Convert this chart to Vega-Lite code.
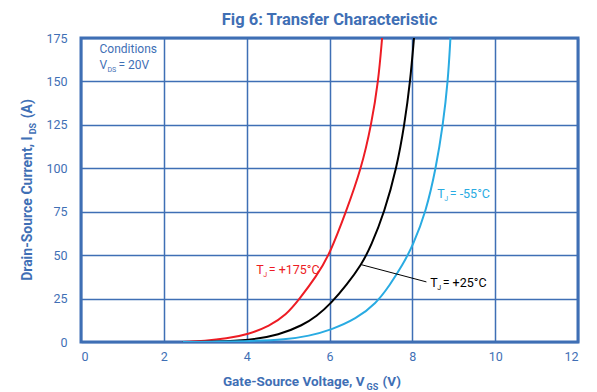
{
  "$schema": "https://vega.github.io/schema/vega-lite/v6.json",
  "width": 497,
  "height": 304,
  "autosize": "none",
  "padding": {"left": 81, "top": 38, "right": 19, "bottom": 50},
  "title": {"text": "Fig 6: Transfer Characteristic", "font": "Roboto", "fontSize": 16.5, "fontWeight": "bold", "color": "#3f6fb5", "anchor": "middle", "offset": 4},
  "config": {
    "view": {"stroke": "#3f6fb5", "strokeWidth": 3},
    "text": {"font": "Roboto"}
  },
  "datasets": {
    "curves": [
      {"series": "+175", "vgs": 2.45, "ids": 0},
      {"series": "+175", "vgs": 3.0, "ids": 0.7},
      {"series": "+175", "vgs": 3.5, "ids": 1.9},
      {"series": "+175", "vgs": 4.04, "ids": 4.4},
      {"series": "+175", "vgs": 4.55, "ids": 9.2},
      {"series": "+175", "vgs": 4.95, "ids": 15.5},
      {"series": "+175", "vgs": 5.27, "ids": 24.6},
      {"series": "+175", "vgs": 5.68, "ids": 37.7},
      {"series": "+175", "vgs": 6.0, "ids": 50.2},
      {"series": "+175", "vgs": 6.4, "ids": 75},
      {"series": "+175", "vgs": 6.77, "ids": 100},
      {"series": "+175", "vgs": 7.01, "ids": 125},
      {"series": "+175", "vgs": 7.18, "ids": 150},
      {"series": "+175", "vgs": 7.27, "ids": 175},
      {"series": "+25", "vgs": 2.45, "ids": 0},
      {"series": "+25", "vgs": 3.3, "ids": 0.2},
      {"series": "+25", "vgs": 4.04, "ids": 0.9},
      {"series": "+25", "vgs": 4.79, "ids": 4},
      {"series": "+25", "vgs": 5.36, "ids": 9.8},
      {"series": "+25", "vgs": 5.68, "ids": 14.6},
      {"series": "+25", "vgs": 6.04, "ids": 22.3},
      {"series": "+25", "vgs": 6.42, "ids": 33},
      {"series": "+25", "vgs": 6.77, "ids": 44.5},
      {"series": "+25", "vgs": 7.0, "ids": 55},
      {"series": "+25", "vgs": 7.33, "ids": 75},
      {"series": "+25", "vgs": 7.62, "ids": 100},
      {"series": "+25", "vgs": 7.81, "ids": 125},
      {"series": "+25", "vgs": 7.95, "ids": 150},
      {"series": "+25", "vgs": 8.04, "ids": 175},
      {"series": "-55", "vgs": 2.45, "ids": 0},
      {"series": "-55", "vgs": 4.04, "ids": 0.4},
      {"series": "-55", "vgs": 4.95, "ids": 1.4},
      {"series": "-55", "vgs": 5.5, "ids": 3.4},
      {"series": "-55", "vgs": 6.04, "ids": 7.0},
      {"series": "-55", "vgs": 6.64, "ids": 13.2},
      {"series": "-55", "vgs": 7.13, "ids": 22.3},
      {"series": "-55", "vgs": 7.45, "ids": 32.5},
      {"series": "-55", "vgs": 7.77, "ids": 44.5},
      {"series": "-55", "vgs": 8.02, "ids": 56},
      {"series": "-55", "vgs": 8.33, "ids": 75},
      {"series": "-55", "vgs": 8.57, "ids": 100},
      {"series": "-55", "vgs": 8.74, "ids": 125},
      {"series": "-55", "vgs": 8.86, "ids": 150},
      {"series": "-55", "vgs": 8.92, "ids": 175}
    ],
    "tlabels": [
      {"series": "-55", "x": 8.6, "y": 83.1, "pre": "T", "sub": "J", "post": "= -55°C"},
      {"series": "+175", "x": 4.23, "y": 39.3, "pre": "T", "sub": "J", "post": "= +175°C"},
      {"series": "+25", "x": 8.43, "y": 31.9, "pre": "T", "sub": "J", "post": "= +25°C"}
    ]
  },
  "layer": [
    {
      "data": {"name": "curves"},
      "mark": {"type": "line", "strokeWidth": 2, "clip": true, "interpolate": "basis"},
      "encoding": {
        "x": {"field": "vgs", "type": "quantitative", "scale": {"domain": [0, 12], "nice": false},
          "axis": {"values": [0, 2, 4, 6, 8, 10, 12], "grid": true, "gridColor": "#3f6fb5", "gridWidth": 1.5, "ticks": false, "domain": false, "labelPadding": 8, "labelFont": "Roboto", "labelFontSize": 12.5, "labelColor": "#3f6fb5", "title": null}},
        "y": {"field": "ids", "type": "quantitative", "scale": {"domain": [0, 175], "nice": false},
          "axis": {"values": [0, 25, 50, 75, 100, 125, 150, 175], "grid": true, "gridColor": "#3f6fb5", "gridWidth": 1.5, "ticks": false, "domain": false, "labelPadding": 14, "labelFont": "Roboto", "labelFontSize": 12.5, "labelColor": "#3f6fb5", "title": null}},
        "color": {"field": "series", "type": "nominal", "scale": {"domain": ["+175", "+25", "-55"], "range": ["#ed1c24", "#000000", "#29abe2"]}, "legend": null},
        "detail": {"field": "series"}
      }
    },
    {
      "data": {"values": [{"x": 6.77, "y": 44.5, "x2": 8.34, "y2": 34.6}]},
      "mark": {"type": "rule", "color": "#000000", "strokeWidth": 1},
      "encoding": {
        "x": {"field": "x", "type": "quantitative"},
        "y": {"field": "y", "type": "quantitative"},
        "x2": {"field": "x2"},
        "y2": {"field": "y2"}
      }
    },
    {
      "data": {"name": "tlabels"},
      "mark": {"type": "text", "align": "left", "baseline": "alphabetic", "fontSize": 12.5},
      "encoding": {
        "x": {"field": "x", "type": "quantitative"},
        "y": {"field": "y", "type": "quantitative"},
        "text": {"field": "pre"},
        "color": {"field": "series", "type": "nominal", "legend": null}
      }
    },
    {
      "data": {"name": "tlabels"},
      "mark": {"type": "text", "align": "left", "baseline": "alphabetic", "fontSize": 7, "dx": 7, "dy": 3},
      "encoding": {
        "x": {"field": "x", "type": "quantitative"},
        "y": {"field": "y", "type": "quantitative"},
        "text": {"field": "sub"},
        "color": {"field": "series", "type": "nominal", "legend": null}
      }
    },
    {
      "data": {"name": "tlabels"},
      "mark": {"type": "text", "align": "left", "baseline": "alphabetic", "fontSize": 12.5, "dx": 12.5},
      "encoding": {
        "x": {"field": "x", "type": "quantitative"},
        "y": {"field": "y", "type": "quantitative"},
        "text": {"field": "post"},
        "color": {"field": "series", "type": "nominal", "legend": null}
      }
    },
    {
      "data": {"values": [{"x": 0.447, "y": 166.3, "t": "Conditions"}, {"x": 0.447, "y": 157.0, "t": "V"}]},
      "mark": {"type": "text", "align": "left", "baseline": "alphabetic", "fontSize": 12, "color": "#3f6fb5"},
      "encoding": {
        "x": {"field": "x", "type": "quantitative"},
        "y": {"field": "y", "type": "quantitative"},
        "text": {"field": "t"}
      }
    },
    {
      "data": {"values": [{"x": 0.447, "y": 157.0, "t": "DS"}]},
      "mark": {"type": "text", "align": "left", "baseline": "alphabetic", "fontSize": 7, "dx": 8, "dy": 3, "color": "#3f6fb5"},
      "encoding": {
        "x": {"field": "x", "type": "quantitative"},
        "y": {"field": "y", "type": "quantitative"},
        "text": {"field": "t"}
      }
    },
    {
      "data": {"values": [{"x": 0.447, "y": 157.0, "t": "= 20V"}]},
      "mark": {"type": "text", "align": "left", "baseline": "alphabetic", "fontSize": 12, "dx": 19, "color": "#3f6fb5"},
      "encoding": {
        "x": {"field": "x", "type": "quantitative"},
        "y": {"field": "y", "type": "quantitative"},
        "text": {"field": "t"}
      }
    },
    {
      "data": {"values": [{"x": 6.845, "y": -25.4, "t": "Gate-Source Voltage, V"}]},
      "mark": {"type": "text", "align": "right", "baseline": "alphabetic", "fontSize": 13.5, "fontWeight": "bold", "color": "#3f6fb5"},
      "encoding": {
        "x": {"field": "x", "type": "quantitative"},
        "y": {"field": "y", "type": "quantitative"},
        "text": {"field": "t"}
      }
    },
    {
      "data": {"values": [{"x": 6.845, "y": -25.4, "t": "GS"}]},
      "mark": {"type": "text", "align": "left", "baseline": "alphabetic", "fontSize": 9, "fontWeight": "bold", "dx": 2, "dy": 4, "color": "#3f6fb5"},
      "encoding": {
        "x": {"field": "x", "type": "quantitative"},
        "y": {"field": "y", "type": "quantitative"},
        "text": {"field": "t"}
      }
    },
    {
      "data": {"values": [{"x": 6.845, "y": -25.4, "t": "(V)"}]},
      "mark": {"type": "text", "align": "left", "baseline": "alphabetic", "fontSize": 13.5, "fontWeight": "bold", "dx": 18, "color": "#3f6fb5"},
      "encoding": {
        "x": {"field": "x", "type": "quantitative"},
        "y": {"field": "y", "type": "quantitative"},
        "text": {"field": "t"}
      }
    },
    {
      "data": {"values": [{"x": -1.195, "y": 118.4, "t": "Drain-Source Current, I"}]},
      "mark": {"type": "text", "align": "right", "baseline": "alphabetic", "angle": 270, "fontSize": 14, "fontWeight": "bold", "color": "#3f6fb5"},
      "encoding": {
        "x": {"field": "x", "type": "quantitative"},
        "y": {"field": "y", "type": "quantitative"},
        "text": {"field": "t"}
      }
    },
    {
      "data": {"values": [{"x": -1.195, "y": 118.4, "t": "DS"}]},
      "mark": {"type": "text", "align": "left", "baseline": "alphabetic", "angle": 270, "fontSize": 9, "fontWeight": "bold", "dx": 2, "dy": 4, "color": "#3f6fb5"},
      "encoding": {
        "x": {"field": "x", "type": "quantitative"},
        "y": {"field": "y", "type": "quantitative"},
        "text": {"field": "t"}
      }
    },
    {
      "data": {"values": [{"x": -1.195, "y": 118.4, "t": "(A)"}]},
      "mark": {"type": "text", "align": "left", "baseline": "alphabetic", "angle": 270, "fontSize": 14, "fontWeight": "bold", "dx": 18, "color": "#3f6fb5"},
      "encoding": {
        "x": {"field": "x", "type": "quantitative"},
        "y": {"field": "y", "type": "quantitative"},
        "text": {"field": "t"}
      }
    }
  ]
}
